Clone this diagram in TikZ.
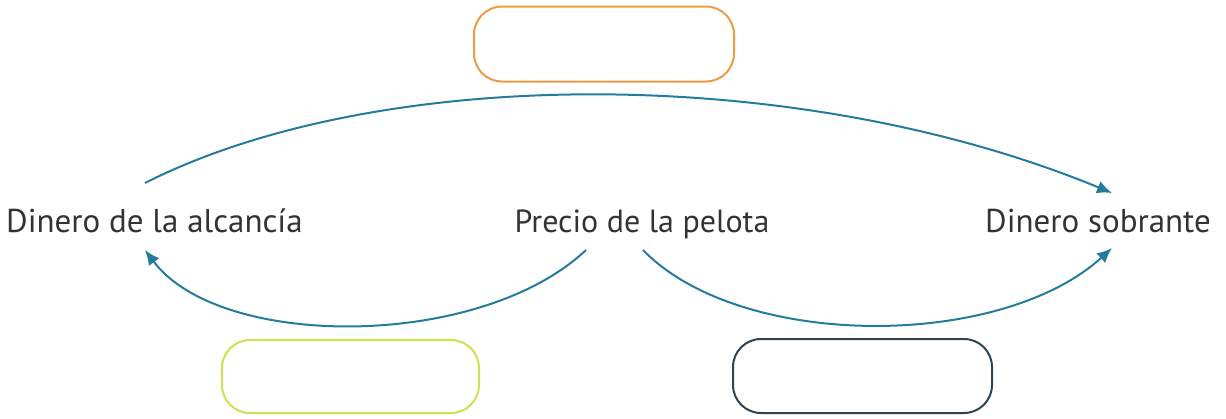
\documentclass[tikz,border=0pt]{standalone}
\usepackage{fontspec}
\setmainfont{PT Sans}
\usetikzlibrary{arrows.meta,calc}
\definecolor{arrowc}{HTML}{237C9E}
\definecolor{boxorange}{HTML}{EE9A45}
\definecolor{boxgreen}{HTML}{D2DF4E}
\definecolor{boxdark}{HTML}{2F4350}
\definecolor{txt}{HTML}{333333}
\tikzset{
  lbl/.style={inner sep=0pt, anchor=base west, text=txt, font=\fontsize{33}{38}\selectfont},
  blank/.style={draw, line width=2pt, rounded corners=28pt, minimum width=260pt, minimum height=75pt, inner sep=0pt},
  conn/.style={draw=arrowc, line width=2pt, -{Latex[length=15pt,width=13pt]}}
}
\begin{document}
\begin{tikzpicture}[x=1pt,y=-1pt]
\useasboundingbox (0,0) rectangle (1226,418);
\node[blank, draw=boxorange] (top) at (604,44) {};
\node[blank, draw=boxgreen, minimum width=257pt, minimum height=73pt] (bl) at (350.5,376.5) {};
\node[blank, draw=boxdark, minimum width=259pt, minimum height=74pt] (br) at (862.5,376) {};
\node[lbl] (alc) at (6,232) {Dinero de la alcancía};
\node[lbl, anchor=base, font=\fontsize{32}{38}\selectfont] (pre) at (642,232) {Precio de la pelota};
\node[lbl, anchor=base] (sob) at (1098,232) {Dinero sobrante};
\draw[conn] ($(alc.base west)+(139,-49)$) .. controls (380,64) and (800,64) .. ($(sob.base)+(14,-39)$);
\draw[conn] ($(pre.base)+(-56,18)$) .. controls (480,350) and (220,350) .. ($(alc.base west)+(139,18)$);
\draw[conn] ($(pre.base)+(1,18)$) .. controls (740,350) and (1000,350) .. ($(sob.base)+(14,16)$);
\end{tikzpicture}
\end{document}
